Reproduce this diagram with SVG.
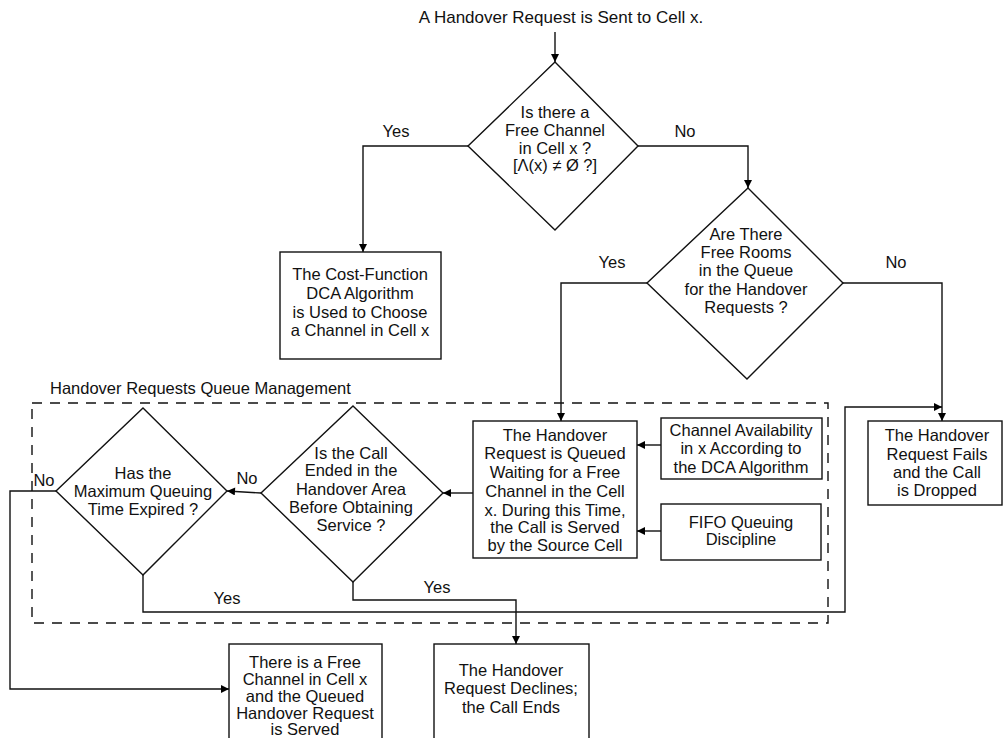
<svg xmlns="http://www.w3.org/2000/svg" width="1003" height="738" viewBox="0 0 1003 738">
<defs>
<marker id="ah" viewBox="0 0 10 10" refX="10" refY="5" markerWidth="9" markerHeight="8" markerUnits="userSpaceOnUse" orient="auto">
<path d="M0,0 L10,5 L0,10 z" fill="#000"/>
</marker>
<style>
text{font-family:"Liberation Sans",Arial,sans-serif;font-size:16.5px;fill:#111;}
.c{text-anchor:middle;}
.shape{fill:#fff;stroke:#111;stroke-width:1.4;}
.ln{fill:none;stroke:#111;stroke-width:1.4;}
.arr{fill:none;stroke:#111;stroke-width:1.4;marker-end:url(#ah);}
.dash{fill:none;stroke:#111;stroke-width:1.4;stroke-dasharray:10 8;}
</style>
</defs>
<rect width="1003" height="738" fill="#fff"/>

<text x="561" y="23" class="c" style="font-size:17px">A Handover Request is Sent to Cell x.</text>

<g id="group-queue">
<rect class="dash" x="32" y="403" width="796" height="220"/>
<text x="50" y="394">Handover Requests Queue Management</text>
</g>

<g id="connectors">
<path class="arr" d="M555,32 L555,62"/>
<path class="arr" d="M468,146 L363,146 L363,252"/>
<path class="arr" d="M638,146 L748,146 L748,188"/>
<path class="arr" d="M647,283 L561,283 L561,421"/>
<path class="arr" d="M843,283 L942,283 L942,421"/>
<path class="arr" d="M661,445 L637,445"/>
<path class="arr" d="M661,531 L637,531"/>
<path class="arr" d="M473,493 L443,493"/>
<path class="arr" d="M261,493 L227,491"/>
<path class="arr" d="M56,491 L10,491 L10,689 L229,689"/>
<path class="arr" d="M143,575 L143,612 L845,612 L845,407 L942,407"/>
<path class="ln" d="M353,582 L353,600 L516,600 L516,612"/>
<path class="arr" d="M516,612 L516,644"/>
<text x="396" y="137" class="c">Yes</text>
<text x="685" y="137" class="c">No</text>
<text x="612" y="268" class="c">Yes</text>
<text x="896" y="268" class="c">No</text>
<text x="247" y="484" class="c">No</text>
<text x="44" y="486" class="c">No</text>
<text x="227" y="604" class="c">Yes</text>
<text x="437" y="593" class="c">Yes</text>
</g>

<g id="d-free-channel">
<polygon class="shape" points="555,62 638,146 555,230 468,146"/>
<text class="c" x="555"><tspan x="555" y="118">Is there a</tspan><tspan x="555" y="136">Free Channel</tspan><tspan x="555" y="154">in Cell x ?</tspan><tspan x="555" y="171">[Λ(x) ≠ Ø ?]</tspan></text>
</g>

<g id="b-cost-function">
<rect class="shape" x="280" y="252" width="161" height="107"/>
<text class="c"><tspan x="360" y="280">The Cost-Function</tspan><tspan x="360" y="299">DCA Algorithm</tspan><tspan x="360" y="318">is Used to Choose</tspan><tspan x="360" y="336">a Channel in Cell x</tspan></text>
</g>

<g id="d-free-rooms">
<polygon class="shape" points="748,188 843,283 747,379 647,283"/>
<text class="c"><tspan x="746" y="240">Are There</tspan><tspan x="746" y="258">Free Rooms</tspan><tspan x="746" y="276">in the Queue</tspan><tspan x="746" y="295">for the Handover</tspan><tspan x="746" y="313">Requests ?</tspan></text>
</g>

<g id="b-fails">
<rect class="shape" x="868" y="421" width="134" height="84"/>
<text class="c"><tspan x="937" y="441">The Handover</tspan><tspan x="937" y="460">Request Fails</tspan><tspan x="937" y="478">and the Call</tspan><tspan x="937" y="496">is Dropped</tspan></text>
</g>

<g id="b-queued">
<rect class="shape" x="473" y="421" width="164" height="137"/>
<text class="c"><tspan x="555" y="441">The Handover</tspan><tspan x="555" y="459">Request is Queued</tspan><tspan x="555" y="478">Waiting for a Free</tspan><tspan x="555" y="497">Channel in the Cell</tspan><tspan x="555" y="516">x. During this Time,</tspan><tspan x="555" y="533">the Call is Served</tspan><tspan x="555" y="551">by the Source Cell</tspan></text>
</g>

<g id="b-availability">
<rect class="shape" x="661" y="418" width="161" height="61"/>
<text class="c"><tspan x="741" y="436">Channel Availability</tspan><tspan x="741" y="454">in x According to</tspan><tspan x="741" y="473">the DCA Algorithm</tspan></text>
</g>

<g id="b-fifo">
<rect class="shape" x="661" y="504" width="160" height="56"/>
<text class="c"><tspan x="741" y="528">FIFO Queuing</tspan><tspan x="741" y="545">Discipline</tspan></text>
</g>

<g id="d-call-ended">
<polygon class="shape" points="353,406 443,493 353,582 261,493"/>
<text class="c"><tspan x="351" y="459">Is the Call</tspan><tspan x="351" y="476">Ended in the</tspan><tspan x="351" y="495">Handover Area</tspan><tspan x="351" y="513">Before Obtaining</tspan><tspan x="351" y="531">Service ?</tspan></text>
</g>

<g id="d-max-time">
<polygon class="shape" points="143,408 227,491 143,575 56,491"/>
<text class="c"><tspan x="143" y="479">Has the</tspan><tspan x="143" y="497">Maximum Queuing</tspan><tspan x="143" y="515">Time Expired ?</tspan></text>
</g>

<g id="b-served">
<rect class="shape" x="229" y="644" width="153" height="104"/>
<text class="c"><tspan x="305" y="668">There is a Free</tspan><tspan x="305" y="685">Channel in Cell x</tspan><tspan x="305" y="702">and the Queued</tspan><tspan x="305" y="719">Handover Request</tspan><tspan x="305" y="735">is Served</tspan></text>
</g>

<g id="b-declines">
<rect class="shape" x="434" y="644" width="155" height="104"/>
<text class="c"><tspan x="511" y="676">The Handover</tspan><tspan x="511" y="694">Request Declines;</tspan><tspan x="511" y="713">the Call Ends</tspan></text>
</g>
</svg>
